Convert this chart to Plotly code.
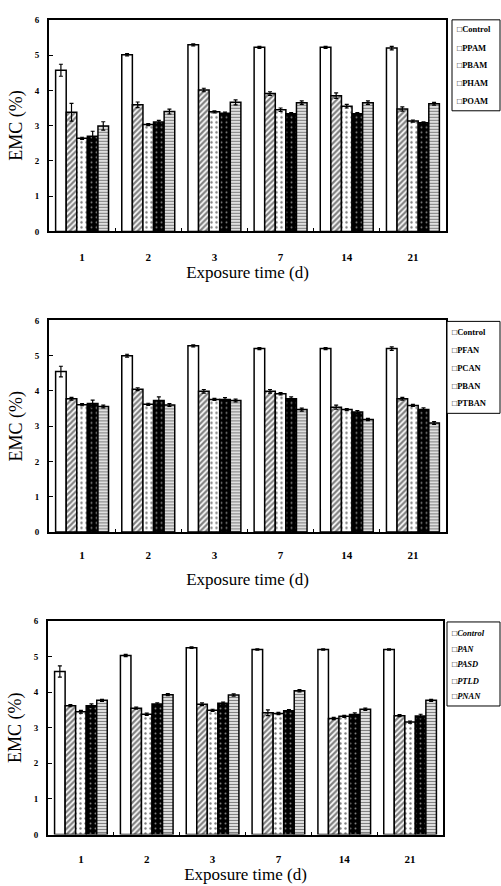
import plotly.graph_objects as go

# ---------------- data ----------------
days = ["1", "2", "3", "7", "14", "21"]

names1 = ["Control", "PPAM", "PBAM", "PHAM", "POAM"]
ctrl1 = [4.57, 5.01, 5.29, 5.22, 5.22, 5.20]
ppam = [3.38, 3.59, 4.01, 3.91, 3.85, 3.47]
pbam = [2.64, 3.03, 3.39, 3.45, 3.55, 3.13]
pham = [2.70, 3.10, 3.35, 3.34, 3.34, 3.08]
poam = [2.99, 3.40, 3.66, 3.65, 3.65, 3.62]
ctrl1_err = [0.17, 0.03, 0.03, 0.03, 0.03, 0.05]
ppam_err = [0.25, 0.08, 0.05, 0.05, 0.08, 0.06]
pbam_err = [0.03, 0.03, 0.03, 0.05, 0.05, 0.03]
pham_err = [0.14, 0.05, 0.03, 0.03, 0.03, 0.03]
poam_err = [0.12, 0.07, 0.07, 0.05, 0.05, 0.04]

names2 = ["Control", "PFAN", "PCAN", "PBAN", "PTBAN"]
ctrl2 = [4.55, 5.00, 5.28, 5.20, 5.20, 5.20]
pfan = [3.78, 4.05, 3.99, 3.99, 3.54, 3.78]
pcan = [3.61, 3.62, 3.76, 3.92, 3.47, 3.59]
pban = [3.64, 3.73, 3.76, 3.78, 3.40, 3.47]
ptban = [3.56, 3.60, 3.73, 3.47, 3.19, 3.09]
ctrl2_err = [0.15, 0.04, 0.03, 0.03, 0.03, 0.05]
pfan_err = [0.04, 0.04, 0.05, 0.05, 0.06, 0.04]
pcan_err = [0.03, 0.03, 0.03, 0.03, 0.03, 0.03]
pban_err = [0.10, 0.10, 0.05, 0.05, 0.04, 0.05]
ptban_err = [0.04, 0.04, 0.04, 0.04, 0.03, 0.04]

names3 = ["Control", "PAN", "PASD", "PTLD", "PNAN"]
ctrl3 = [4.58, 5.03, 5.25, 5.20, 5.20, 5.20]
pan = [3.62, 3.55, 3.66, 3.42, 3.26, 3.34]
pasd = [3.45, 3.38, 3.49, 3.40, 3.32, 3.16]
ptld = [3.62, 3.67, 3.69, 3.48, 3.37, 3.33]
pnan = [3.77, 3.93, 3.92, 4.04, 3.52, 3.77]
ctrl3_err = [0.16, 0.03, 0.02, 0.02, 0.02, 0.02]
pan_err = [0.03, 0.03, 0.04, 0.08, 0.03, 0.03]
pasd_err = [0.04, 0.03, 0.03, 0.03, 0.03, 0.03]
ptld_err = [0.05, 0.03, 0.03, 0.03, 0.05, 0.05]
pnan_err = [0.03, 0.03, 0.03, 0.03, 0.03, 0.03]

yticks = [0, 1, 2, 3, 4, 5, 6]

panels = [
    (names1, [ctrl1, ppam, pbam, pham, poam],
     [ctrl1_err, ppam_err, pbam_err, pham_err, poam_err]),
    (names2, [ctrl2, pfan, pcan, pban, ptban],
     [ctrl2_err, pfan_err, pcan_err, pban_err, ptban_err]),
    (names3, [ctrl3, pan, pasd, ptld, pnan],
     [ctrl3_err, pan_err, pasd_err, ptld_err, pnan_err]),
]

# ---------------- styling ----------------
W, H = 501, 886
FONT = "Liberation Serif"

patterns = [
    dict(shape=""),
    dict(shape="/", fgcolor="black", bgcolor="white", size=4, solidity=0.55),
    dict(shape=".", fgcolor="black", bgcolor="white", size=5, solidity=0.18),
    dict(shape=".", fgcolor="white", bgcolor="black", size=5, solidity=0.12),
    dict(shape="-", fgcolor="black", bgcolor="white", size=3, solidity=0.5),
]

# pixel geometry of each panel: (left, right, top, bottom)
geom = [(49, 446, 15, 229), (49, 446, 319, 533), (48, 443, 623, 839)]
tick_standoff = [14, 12, 13]
title_standoff = [3, 13, 0]
legend_boxes = [
    (452, 500, 15, 107, [24, 43, 61, 79, 97], False),
    (447, 500, 320, 413, [331, 349, 367, 385, 403], False),
    (447, 500, 624, 709, [635, 651, 667, 684, 699], True),
]

fig = go.Figure()
layout = dict(
    width=W, height=H,
    margin=dict(l=0, r=0, t=0, b=0),
    paper_bgcolor="white", plot_bgcolor="white",
    barmode="group", bargap=0.2, bargroupgap=0.0,
    showlegend=False,
    font=dict(family=FONT, color="black"),
)
shapes = []
annotations = []

for p, (names, series, errs) in enumerate(panels):
    l, r, t, b = geom[p]
    xa = "x" if p == 0 else f"x{p+1}"
    ya = "y" if p == 0 else f"y{p+1}"
    for i, (nm, vals, er) in enumerate(zip(names, series, errs)):
        fig.add_trace(go.Bar(
            x=days, y=vals, name=nm, xaxis=xa, yaxis=ya,
            marker=dict(color="white", line=dict(color="black", width=1.5),
                        pattern=patterns[i]),
            error_y=dict(type="data", array=er, visible=True,
                         color="black", thickness=1.2, width=2),
            offsetgroup=str(i),
        ))
    xkey = "xaxis" if p == 0 else f"xaxis{p+1}"
    ykey = "yaxis" if p == 0 else f"yaxis{p+1}"
    layout[xkey] = dict(
        domain=[l / W, r / W], anchor=ya,
        type="category", categoryorder="array", categoryarray=days,
        showline=True, mirror=True, linecolor="black", linewidth=2,
        ticks="inside", tickson="boundaries", ticklen=3, tickcolor="black",
        tickfont=dict(family=FONT, size=11, color="black", weight="bold"),
        ticklabelstandoff=tick_standoff[p],
        showgrid=False, zeroline=False,
        title=dict(text="Exposure time (d)", font=dict(family=FONT, size=17),
                   standoff=title_standoff[p]),
    )
    layout[ykey] = dict(
        domain=[1 - b / H, 1 - t / H], anchor=xa,
        range=[0, 6], tickvals=yticks, ticktext=[str(v) for v in yticks],
        showline=True, mirror=True, linecolor="black", linewidth=2,
        ticks="inside", ticklen=4, tickcolor="black",
        tickfont=dict(family=FONT, size=9, color="black", weight="bold"),
        ticklabelstandoff=6,
        showgrid=False, zeroline=False,
        title=dict(text="EMC (%)", font=dict(family=FONT, size=18), standoff=7),
    )
    # legend box
    bx0, bx1, by0, by1, ys, ital = legend_boxes[p]
    shapes.append(dict(type="rect", xref="paper", yref="paper",
                       x0=bx0 / W, x1=bx1 / W, y0=1 - by1 / H, y1=1 - by0 / H,
                       line=dict(color="black", width=1), fillcolor="white"))
    for nm, yy in zip(names, ys):
        txt = f"□{nm}"
        if ital:
            txt = f"<i>{txt}</i>"
        annotations.append(dict(
            xref="paper", yref="paper", x=(bx0 + 3) / W, y=1 - yy / H,
            xanchor="left", yanchor="middle", showarrow=False, text=txt,
            font=dict(family=FONT, size=8.5, color="black", weight="bold"),
        ))

layout["shapes"] = shapes
layout["annotations"] = annotations
fig.update_layout(**layout)
fig.write_html("out.html")
